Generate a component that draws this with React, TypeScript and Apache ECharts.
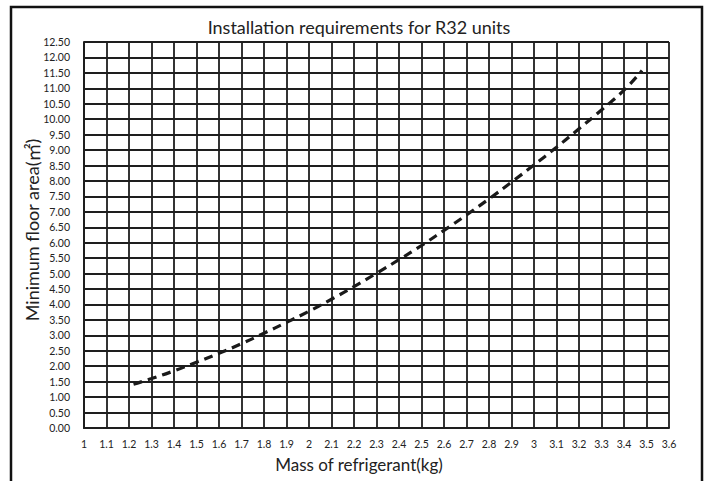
import React, { useEffect, useRef } from "react";
import * as echarts from "echarts";

const massKg = [1.22, 1.3, 1.4, 1.5, 1.6, 1.7, 1.8, 1.9, 2.0, 2.1, 2.2, 2.3, 2.4, 2.5, 2.6, 2.7, 2.8, 2.9, 3.0, 3.1, 3.2, 3.3, 3.4, 3.48];
const floorArea = [1.42, 1.6, 1.85, 2.13, 2.42, 2.73, 3.07, 3.42, 3.78, 4.17, 4.58, 5.01, 5.45, 5.91, 6.4, 6.9, 7.42, 7.96, 8.52, 9.09, 9.69, 10.3, 10.94, 11.58];

const titleText = "Installation requirements for R32 units";
const xName = "Mass of refrigerant(kg)";
const yNameMain = "Minimum floor area(";
const yNameUnit = "㎡";
const yNameEnd = ")";

const FONT = "Lato, 'Open Sans', sans-serif";

export default function App() {
  const ref = useRef<HTMLDivElement>(null);
  useEffect(() => {
    if (!ref.current) return;
    const chart = echarts.init(ref.current, null, { renderer: "svg" });
    const data = massKg.map((m, i) => [m, floorArea[i]]);
    chart.setOption({
      animation: false,
      backgroundColor: "#fff",
      textStyle: { fontFamily: FONT },
      grid: { left: 84, top: 42, width: 585, height: 386, containLabel: false },
      xAxis: {
        type: "value",
        min: 1,
        max: 3.6,
        interval: 0.1,
        axisLine: { show: true, lineStyle: { color: "#1e1e1e", width: 2 } },
        axisTick: { show: false },
        axisLabel: {
          color: "#222",
          fontSize: 10.5,
          fontFamily: FONT,
          margin: 10,
          formatter: (v: number) => String(Math.round(v * 10) / 10),
        },
        splitLine: { show: true, lineStyle: { color: "#1e1e1e", width: 1.8 } },
      },
      yAxis: {
        type: "value",
        min: 0,
        max: 12.5,
        interval: 0.5,
        axisLine: { show: true, lineStyle: { color: "#1e1e1e", width: 2 } },
        axisTick: { show: false },
        axisLabel: {
          color: "#222",
          fontSize: 10.5,
          fontFamily: FONT,
          margin: 14,
          formatter: (v: number) => v.toFixed(2),
        },
        splitLine: { show: true, lineStyle: { color: "#1e1e1e", width: 1.8 } },
      },
      graphic: [
        {
          type: "rect",
          shape: { x: 11, y: 7, width: 691, height: 500 },
          style: { fill: "none", stroke: "#111", lineWidth: 2.5 },
          silent: true,
        },
        {
          type: "text",
          x: 359,
          y: 27,
          style: {
            text: titleText,
            font: `18px ${FONT}`,
            fill: "#222",
            textAlign: "center",
            textVerticalAlign: "middle",
          },
        },
        {
          type: "text",
          x: 359,
          y: 464,
          style: {
            text: xName,
            font: `17px ${FONT}`,
            fill: "#222",
            textAlign: "center",
            textVerticalAlign: "middle",
          },
        },
        {
          type: "text",
          x: 32,
          y: 230,
          rotation: Math.PI / 2,
          style: {
            text: `{a|${yNameMain}}{u|${yNameUnit}}{a|${yNameEnd}}`,
            fill: "#222",
            textAlign: "center",
            textVerticalAlign: "middle",
            rich: {
              a: { fontSize: 18, fontFamily: FONT, fill: "#222" },
              u: { fontSize: 18, fontFamily: "'Noto Sans CJK SC'", fill: "#222" },
            },
          },
        },
      ],
      series: [
        {
          type: "line",
          data,
          showSymbol: false,
          smooth: true,
          lineStyle: { color: "#1a1a1a", width: 3.2, type: [9, 6] },
          z: 5,
        },
      ],
    });
    return () => chart.dispose();
  }, []);
  return <div ref={ref} style={{ width: 710, height: 481, position: "absolute", left: 0, top: 0 }} />;
}
